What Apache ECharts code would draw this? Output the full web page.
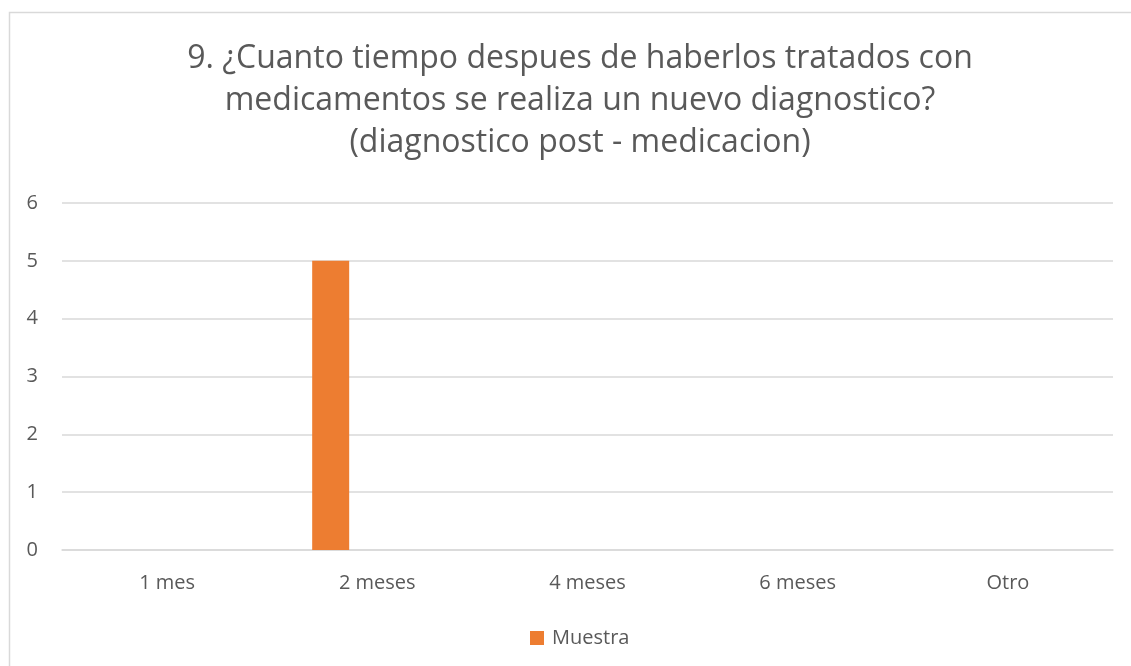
<!DOCTYPE html>
<html><head><meta charset="utf-8">
<script src="https://cdn.jsdelivr.net/npm/echarts@6/dist/echarts.min.js"></script>
<style>html,body{margin:0;padding:0;background:#fff}#c{width:1131px;height:666px}</style>
</head><body><div id="c"></div>
<script>
const titleLines = ['9. ¿Cuanto tiempo despues de haberlos tratados con', 'medicamentos se realiza un nuevo diagnostico?', '(diagnostico post - medicacion)'];
const categories = ['1 mes', '2 meses', '4 meses', '6 meses', 'Otro'];
const muestra = [0, 5, 0, 0, 0];
const serie2 = [0, 0, 0, 0, 0];
const serie3 = [0, 0, 0, 0, 0];
const yTicks = {min: 0, max: 6, interval: 1};

const chart = echarts.init(document.getElementById('c'));
const txt = '#595959';
const font = '"Open Sans", sans-serif';
chart.setOption({
  backgroundColor: '#fff',
  animation: false,
  graphic: [{type: 'rect', shape: {x: 9.5, y: 12.5, width: 1140, height: 680}, style: {fill: 'none', stroke: '#d9d9d9', lineWidth: 1.5}, z: -1}],
  title: {text: titleLines.join('\n'), left: 575, textAlign: 'center', top: 33, textStyle: {color: txt, fontFamily: font, fontSize: 32, fontWeight: 'normal', lineHeight: 42, align: 'center'}},
  legend: {data: ['Muestra'], top: 623, left: 525, itemWidth: 14, itemHeight: 14, itemGap: 8, icon: 'rect', textStyle: {color: txt, fontFamily: font, fontSize: 20, padding: [0,0,0,3]}},
  grid: {left: 62, right: 18, top: 203, bottom: 116, containLabel: false},
  xAxis: {type: 'category', data: categories, axisLine: {lineStyle: {color: '#d9d9d9', width: 1.5}}, axisTick: {show: false},
    axisLabel: {color: txt, fontFamily: font, fontSize: 20, margin: 23}},
  yAxis: {type: 'value', min: yTicks.min, max: yTicks.max, interval: yTicks.interval, axisLine: {show: false}, axisTick: {show: false},
    splitLine: {lineStyle: {color: '#d9d9d9', width: 1.5}}, axisLabel: {color: txt, fontFamily: font, fontSize: 20, margin: 24}},
  series: [
    {name: 'Muestra', type: 'bar', data: muestra, barWidth: 37, barGap: '26%', itemStyle: {color: '#ed7d31'}},
    {name: 's2', type: 'bar', data: serie2, barWidth: 37, barGap: '26%', itemStyle: {color: '#a5a5a5'}},
    {name: 's3', type: 'bar', data: serie3, barWidth: 37, barGap: '26%', itemStyle: {color: '#ffc000'}}
  ]
});
</script></body></html>
